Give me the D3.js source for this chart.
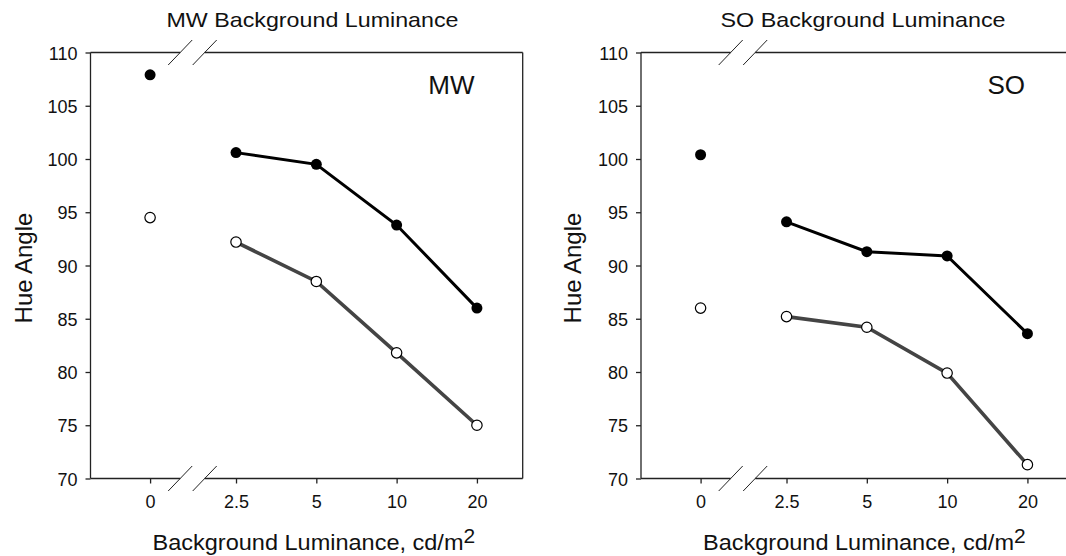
<!DOCTYPE html>
<html>
<head>
<meta charset="utf-8">
<script src="https://cdn.jsdelivr.net/npm/d3@7"></script>
<style>
  html, body { margin: 0; padding: 0; background: #fff; }
  svg { display: block; font-family: "Liberation Sans", Arial, sans-serif; }
</style>
</head>
<body>
<svg id="chart" width="1066" height="556"></svg>
<script>
// ---- data ----
const categories = ["0", "2.5", "5", "10", "20"];
const mwFilled = [107.9, 100.6, 99.5, 93.8, 86.0];
const mwOpen   = [94.5, 92.2, 88.5, 81.8, 75.0];
const soFilled = [100.4, 94.1, 91.3, 90.9, 83.6];
const soOpen   = [86.0, 85.2, 84.2, 79.9, 71.3];
const yTicks = [70, 75, 80, 85, 90, 95, 100, 105, 110];
const panelTitles = ["MW Background Luminance", "SO Background Luminance"];
const panelLabels = ["MW", "SO"];
const yLabel = "Hue Angle";
const xLabel = "Background Luminance, cd/m";
const xLabelSup = "2";

// ---- layout ----
const slots = [-0.07, 1, 2, 3, 4];           // horizontal slot of each category (axis break after 0)
const panels = [
  { left: 90.5, filled: mwFilled, open: mwOpen, title: panelTitles[0], label: panelLabels[0] },
  { left: 641,  filled: soFilled, open: soOpen, title: panelTitles[1], label: panelLabels[1] }
];
const W = 432.2, plotTop = 52.5, plotBottom = 478.5;

const svg = d3.select("#chart");
const x = d3.scaleLinear().domain([-0.812, 4.57]).range([0, W]);
const y = d3.scaleLinear().domain([70, 110]).range([plotBottom, plotTop]);
const breakA = (slots[0] + slots[1]) / 2 - 0.16;
const breakB = (slots[0] + slots[1]) / 2 + 0.145;

panels.forEach((p, pi) => {
  const g = svg.append("g").attr("transform", `translate(${p.left},0)`);

  // Title
  g.append("text")
    .attr("x", 222).attr("y", 27)
    .attr("text-anchor", "middle")
    .attr("font-size", 21)
    .attr("textLength", pi === 0 ? 292 : 285)
    .attr("lengthAdjust", "spacingAndGlyphs")
    .attr("fill", "#111")
    .text(p.title);

  // Frame with breaks
  const xa = x(breakA), xb = x(breakB);
  const frame = g.append("g").attr("stroke", "#222").attr("stroke-width", 1.3).attr("fill", "none");
  frame.append("line").attr("x1", 0).attr("x2", 0).attr("y1", plotTop).attr("y2", plotBottom);
  frame.append("line").attr("x1", W).attr("x2", W).attr("y1", plotTop).attr("y2", plotBottom);
  [plotTop, plotBottom].forEach(yy => {
    frame.append("line").attr("x1", 0).attr("x2", xa).attr("y1", yy).attr("y2", yy);
    frame.append("line").attr("x1", xb).attr("x2", W).attr("y1", yy).attr("y2", yy);
    [xa, xb].forEach(xx => {
      frame.append("line")
        .attr("x1", xx - 12).attr("y1", yy + 12.5)
        .attr("x2", xx + 12).attr("y2", yy - 12.5)
        .attr("stroke-width", 1);
    });
  });

  // Y axis
  const yAxis = g.append("g")
    .call(d3.axisLeft(y).tickValues(yTicks).tickSize(5).tickPadding(8));
  yAxis.select(".domain").remove();
  yAxis.selectAll(".tick line").attr("stroke", "#222").attr("stroke-width", 1.3);
  yAxis.selectAll(".tick text").attr("font-size", 18).attr("fill", "#111")
    .attr("font-family", '"Liberation Sans", Arial, sans-serif').attr("dy", "0.37em");

  // X axis
  const xAxis = g.append("g").attr("transform", `translate(0,${plotBottom})`)
    .call(d3.axisBottom(x).tickValues(slots).tickFormat((d, i) => categories[i]).tickSize(5).tickPadding(11.7));
  xAxis.select(".domain").remove();
  xAxis.selectAll(".tick line").attr("stroke", "#222").attr("stroke-width", 1.3);
  xAxis.selectAll(".tick text").attr("font-size", 18).attr("fill", "#111")
    .attr("font-family", '"Liberation Sans", Arial, sans-serif');

  // Axis labels
  g.append("text")
    .attr("transform", `translate(${31.5 - p.left + (pi === 0 ? 0 : 549.5)},268) rotate(-90)`)
    .attr("text-anchor", "middle")
    .attr("font-size", 24)
    .attr("fill", "#111")
    .text(yLabel);

  const xl = g.append("text")
    .attr("x", 62).attr("y", 550)
    .attr("font-size", 22)
    .attr("fill", "#111");
  xl.append("tspan").attr("textLength", 311).attr("lengthAdjust", "spacingAndGlyphs").text(xLabel);
  xl.append("tspan").attr("dy", -7).attr("font-size", 21).text(xLabelSup);

  // Panel label
  g.append("text")
    .attr("x", 384).attr("y", 93.5)
    .attr("text-anchor", "end")
    .attr("font-size", 26)
    .attr("fill", "#111")
    .text(p.label);

  // Lines (connected part after the break)
  const idx = d3.range(1, categories.length);
  const line = arr => d3.line().x(i => x(slots[i])).y(i => y(arr[i]))(idx);
  g.append("path").attr("d", line(p.open))
    .attr("fill", "none").attr("stroke", "#444").attr("stroke-width", 3.6);
  g.append("path").attr("d", line(p.filled))
    .attr("fill", "none").attr("stroke", "#000").attr("stroke-width", 3);

  // Markers
  g.selectAll(".filled").data(p.filled).enter().append("circle")
    .attr("cx", (d, i) => x(slots[i])).attr("cy", d => y(d))
    .attr("r", 5.5).attr("fill", "#000");
  g.selectAll(".open").data(p.open).enter().append("circle")
    .attr("cx", (d, i) => x(slots[i])).attr("cy", d => y(d))
    .attr("r", 5.2).attr("fill", "#fff").attr("stroke", "#000").attr("stroke-width", 1.2);
});
</script>
</body>
</html>
